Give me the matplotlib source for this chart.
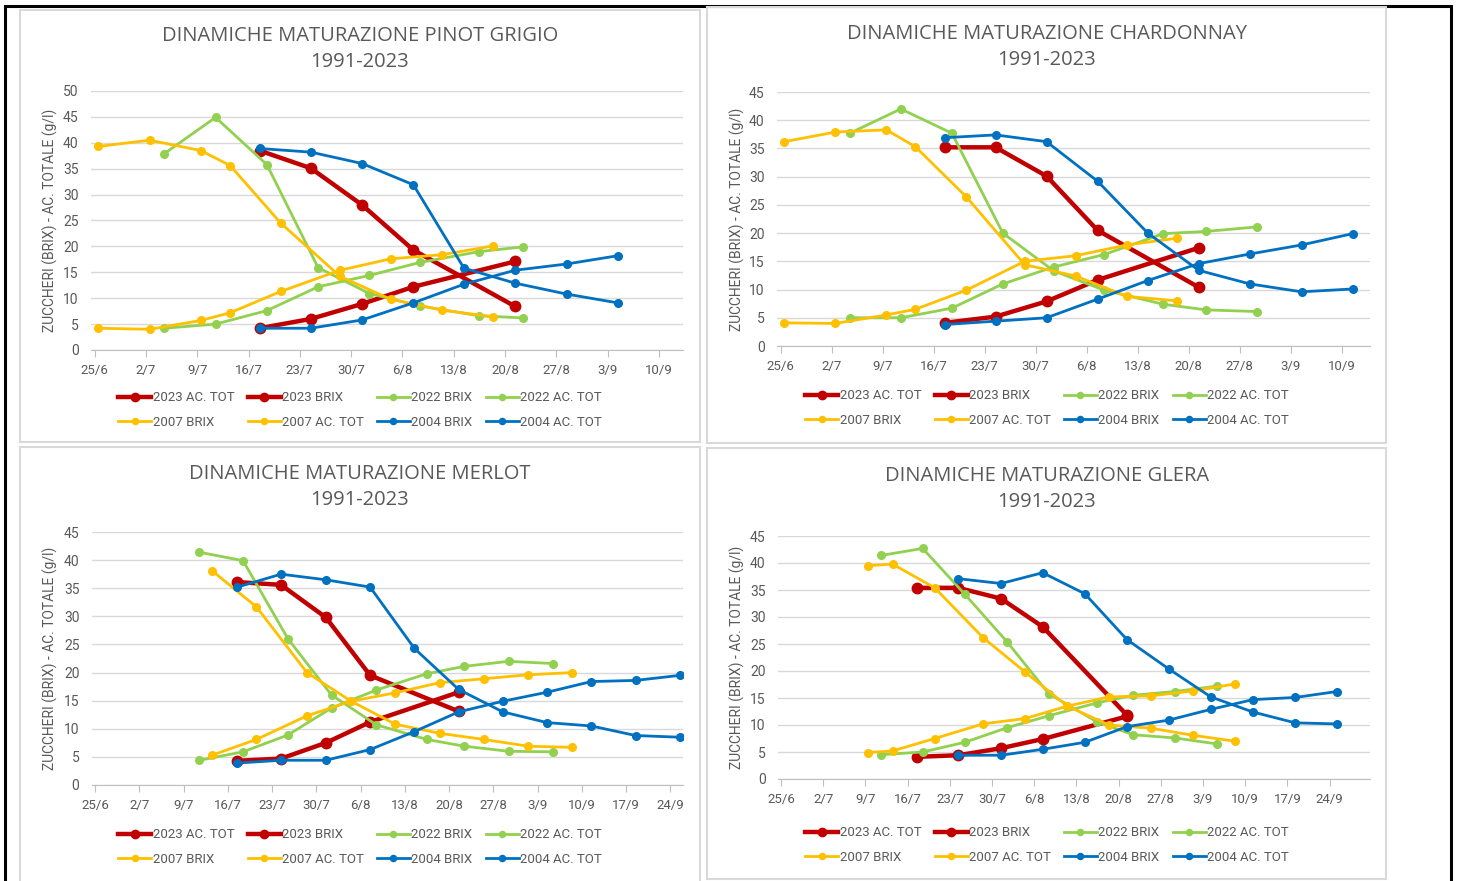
import matplotlib.pyplot as plt
from matplotlib.patches import Rectangle
from matplotlib.lines import Line2D

W, H = 1458, 881

# tick labels: weekly from 25/6 (day 0)
week_labels = ["25/6", "2/7", "9/7", "16/7", "23/7", "30/7", "6/8", "13/8",
               "20/8", "27/8", "3/9", "10/9", "17/9", "24/9"]

# ---- PINOT GRIGIO ----
pg_days_2023 = [22.5, 29.5, 36.5, 43.5, 57.4]
pg_2023_ac = [38.5, 35.1, 28.0, 19.3, 8.4]
pg_2023_brix = [4.2, 6.0, 8.9, 12.2, 17.1]
pg_days_2022 = [9.5, 16.5, 23.5, 30.5, 37.5, 44.4, 52.5, 58.4]
pg_2022_ac = [37.9, 44.9, 35.8, 15.9, 10.9, 8.5, 6.6, 6.2]
pg_2022_brix = [4.2, 5.0, 7.6, 12.2, 14.4, 16.9, 19.0, 19.9]
pg_days_2007 = [0.5, 7.5, 14.5, 18.5, 25.4, 33.5, 40.4, 47.4, 54.4]
pg_2007_ac = [39.3, 40.5, 38.5, 35.6, 24.5, 14.2, 9.8, 7.7, 6.4]
pg_2007_brix = [4.2, 4.0, 5.7, 7.2, 11.3, 15.4, 17.6, 18.4, 20.1]
pg_days_2004 = [22.5, 29.5, 36.5, 43.5, 50.4, 57.4, 64.4, 71.4]
pg_2004_ac = [38.9, 38.2, 36.0, 31.9, 15.8, 12.9, 10.8, 9.1]
pg_2004_brix = [4.2, 4.2, 5.8, 9.1, 12.7, 15.4, 16.6, 18.2]

# ---- CHARDONNAY ----
ch_days_2023 = [22.5, 29.5, 36.5, 43.5, 57.4]
ch_2023_ac = [35.2, 35.2, 30.1, 20.5, 10.4]
ch_2023_brix = [4.1, 5.2, 7.9, 11.7, 17.4]
ch_days_2022 = [9.5, 16.5, 23.5, 30.5, 37.5, 44.4, 52.5, 58.4, 65.4]
ch_2022_ac = [37.7, 42.0, 37.7, 20.0, 13.3, 9.9, 7.4, 6.4, 6.1]
ch_2022_brix = [5.0, 5.0, 6.7, 11.0, 14.0, 16.2, 19.9, 20.3, 21.1]
ch_days_2007 = [0.5, 7.5, 14.5, 18.5, 25.5, 33.5, 40.5, 47.5, 54.4]
ch_2007_ac = [36.2, 37.9, 38.3, 35.3, 26.4, 14.4, 12.4, 8.8, 8.0]
ch_2007_brix = [4.1, 4.0, 5.5, 6.5, 9.9, 15.0, 16.0, 17.9, 19.1]
ch_days_2004 = [22.5, 29.5, 36.5, 43.5, 50.4, 57.4, 64.4, 71.5, 78.5]
ch_2004_ac = [36.9, 37.4, 36.2, 29.2, 20.0, 13.4, 11.0, 9.6, 10.1]
ch_2004_brix = [3.8, 4.4, 5.0, 8.3, 11.6, 14.6, 16.3, 17.9, 19.9]

# ---- MERLOT ----
me_days_2023 = [22.4, 29.4, 36.5, 43.5, 57.5]
me_2023_ac = [36.1, 35.6, 29.8, 19.5, 13.1]
me_2023_brix = [4.3, 4.7, 7.5, 11.2, 16.5]
me_days_2022 = [16.5, 23.4, 30.5, 37.4, 44.5, 52.5, 58.4, 65.4, 72.5]
me_2022_ac = [41.4, 39.9, 26.0, 16.0, 10.7, 8.1, 6.9, 6.0, 5.9]
me_2022_brix = [4.4, 5.9, 8.9, 13.7, 16.9, 19.8, 21.1, 22.0, 21.6]
me_days_2007 = [18.5, 25.5, 33.5, 40.5, 47.5, 54.5, 61.5, 68.5, 75.5]
me_2007_ac = [38.1, 31.7, 20.0, 14.9, 10.8, 9.2, 8.1, 6.9, 6.7]
me_2007_brix = [5.3, 8.1, 12.3, 14.9, 16.4, 18.2, 18.9, 19.6, 20.0]
me_days_2004 = [22.5, 29.4, 36.5, 43.5, 50.5, 57.5, 64.5, 71.5, 78.5, 85.5, 92.5]
me_2004_ac = [35.2, 37.5, 36.5, 35.2, 24.3, 17.0, 13.0, 11.1, 10.5, 8.8, 8.5]
me_2004_brix = [3.9, 4.4, 4.4, 6.3, 9.5, 13.0, 14.9, 16.5, 18.4, 18.6, 19.5]

# ---- GLERA ----
gl_days_2023 = [22.5, 29.4, 36.5, 43.4, 57.4]
gl_2023_ac = [35.4, 35.4, 33.4, 28.2, 11.8]
gl_2023_brix = [4.1, 4.4, 5.7, 7.4, 11.6]
gl_days_2022 = [16.6, 23.5, 30.5, 37.5, 44.4, 52.4, 58.4, 65.3, 72.3]
gl_2022_ac = [41.4, 42.7, 34.2, 25.4, 15.8, 10.6, 8.2, 7.6, 6.5]
gl_2022_brix = [4.5, 5.0, 6.8, 9.5, 11.7, 14.1, 15.5, 16.2, 17.2]
gl_days_2007 = [14.4, 18.5, 25.5, 33.5, 40.5, 47.5, 54.4, 61.4, 68.3, 75.3]
gl_2007_ac = [39.5, 39.8, 35.4, 26.2, 19.8, 13.5, 10.0, 9.4, 8.1, 7.0]
gl_2007_brix = [4.9, 5.2, 7.5, 10.2, 11.2, 13.5, 15.2, 15.4, 16.3, 17.6]
gl_days_2004 = [29.4, 36.5, 43.4, 50.4, 57.4, 64.3, 71.3, 78.3, 85.3, 92.2]
gl_2004_ac = [37.1, 36.2, 38.2, 34.3, 25.8, 20.4, 15.2, 12.4, 10.4, 10.2]
gl_2004_brix = [4.4, 4.4, 5.5, 6.8, 9.7, 10.9, 12.9, 14.7, 15.1, 16.2]

RED, GREEN, YELLOW, BLUE = "#C00000", "#92D050", "#FFC000", "#0070C0"
GRAY = "#595959"
NARROW = ["Roboto", "DejaVu Sans"]

fig = plt.figure(figsize=(W / 100, H / 100), dpi=100)


def px_axes(left, right, top, bottom):
    return fig.add_axes([left / W, 1 - bottom / H, (right - left) / W, (bottom - top) / H])


# outer black frame and panel borders
fig.add_artist(Rectangle((5 / W, -0.01), (1451 - 5) / W, 1 - 6.5 / H + 0.01,
                         transform=fig.transFigure, fill=False, ec="black", lw=2.2))
for (x0, y0, x1, y1) in [(20, 10, 700, 442), (707, 7, 1386, 443),
                         (20, 447, 700, 885), (707, 448, 1386, 879)]:
    fig.add_artist(Rectangle((x0 / W, 1 - y1 / H), (x1 - x0) / W, (y1 - y0) / H,
                             transform=fig.transFigure, fill=False, ec="#d9d9d9", lw=1.5))


def panel(box, xmax, ymax, nweeks, title, cx, ty, ylab_x, legend_y, series):
    ax = px_axes(*box)
    names = ["2023 AC. TOT", "2023 BRIX", "2022 BRIX", "2022 AC. TOT",
             "2007 BRIX", "2007 AC. TOT", "2004 BRIX", "2004 AC. TOT"]
    colors = [RED, RED, GREEN, GREEN, YELLOW, YELLOW, BLUE, BLUE]
    handles = []
    for name, col, (d, v) in zip(names, colors, series):
        big = col == RED
        lw, ms = (3.2, 7.5) if big else (2.0, 5.5)
        ax.plot(d, v, color=col, lw=lw, marker="o", ms=ms, solid_capstyle="round")
        handles.append(Line2D([], [], color=col, lw=lw, marker="o", ms=ms * 0.8))
    ax.set_xlim(-0.5, xmax)
    ax.set_ylim(0, ymax)
    ax.set_yticks(range(0, ymax + 1, 5))
    ax.set_xticks([7 * i for i in range(nweeks)])
    ax.set_xticklabels(week_labels[:nweeks])
    ax.grid(axis="y", color="#d9d9d9", lw=1)
    ax.set_axisbelow(True)
    for s in ["top", "right", "left"]:
        ax.spines[s].set_visible(False)
    ax.spines["bottom"].set_color("#bfbfbf")
    ax.tick_params(axis="y", length=0, pad=9, labelcolor=GRAY, labelsize=10)
    ax.tick_params(axis="x", length=5, color="#bfbfbf", pad=5, labelcolor=GRAY, labelsize=9.5)
    for t in ax.get_xticklabels() + ax.get_yticklabels():
        t.set_family(NARROW)
    fig.text(cx / W, 1 - ty / H, title, ha="center", va="center", color=GRAY,
             fontsize=14.5, family=["Open Sans", "DejaVu Sans"], linespacing=1.45)
    cy = (box[2] + box[3]) / 2
    fig.text(ylab_x / W, 1 - cy / H, "ZUCCHERI (BRIX) - AC. TOTALE (g/l)", rotation=90,
             ha="center", va="center", color=GRAY, fontsize=10, family=NARROW)
    # legend filled column-wise -> reorder for row-major display
    order = [0, 4, 1, 5, 2, 6, 3, 7]
    leg = fig.legend([handles[i] for i in order], [names[i] for i in order], ncol=4,
                     loc="center", bbox_to_anchor=(cx / W, 1 - legend_y / H),
                     frameon=False, handlelength=2.5, handletextpad=0.1,
                     columnspacing=1.0, labelspacing=0.85,
                     prop={"family": NARROW, "size": 9.5})
    for t in leg.get_texts():
        t.set_color(GRAY)
    return ax


panel((91, 683, 91, 350), 80.3, 50, 12, "DINAMICHE MATURAZIONE PINOT GRIGIO\n1991-2023",
      360, 49, 50, 410,
      [(pg_days_2023, pg_2023_ac), (pg_days_2023, pg_2023_brix),
       (pg_days_2022, pg_2022_brix), (pg_days_2022, pg_2022_ac),
       (pg_days_2007, pg_2007_brix), (pg_days_2007, pg_2007_ac),
       (pg_days_2004, pg_2004_brix), (pg_days_2004, pg_2004_ac)])

panel((777, 1370, 92, 346), 80.9, 45, 12, "DINAMICHE MATURAZIONE CHARDONNAY\n1991-2023",
      1047, 47, 737, 408,
      [(ch_days_2023, ch_2023_ac), (ch_days_2023, ch_2023_brix),
       (ch_days_2022, ch_2022_brix), (ch_days_2022, ch_2022_ac),
       (ch_days_2007, ch_2007_brix), (ch_days_2007, ch_2007_ac),
       (ch_days_2004, ch_2004_brix), (ch_days_2004, ch_2004_ac)])

panel((92, 683, 532, 785), 93.0, 45, 14, "DINAMICHE MATURAZIONE MERLOT\n1991-2023",
      360, 487, 50, 847,
      [(me_days_2023, me_2023_ac), (me_days_2023, me_2023_brix),
       (me_days_2022, me_2022_brix), (me_days_2022, me_2022_ac),
       (me_days_2007, me_2007_brix), (me_days_2007, me_2007_ac),
       (me_days_2004, me_2004_brix), (me_days_2004, me_2004_ac)])

panel((778, 1370, 536, 779), 97.7, 45, 14, "DINAMICHE MATURAZIONE GLERA\n1991-2023",
      1047, 489, 737, 845,
      [(gl_days_2023, gl_2023_ac), (gl_days_2023, gl_2023_brix),
       (gl_days_2022, gl_2022_brix), (gl_days_2022, gl_2022_ac),
       (gl_days_2007, gl_2007_brix), (gl_days_2007, gl_2007_ac),
       (gl_days_2004, gl_2004_brix), (gl_days_2004, gl_2004_ac)])

fig.savefig("out.png", dpi=100)
